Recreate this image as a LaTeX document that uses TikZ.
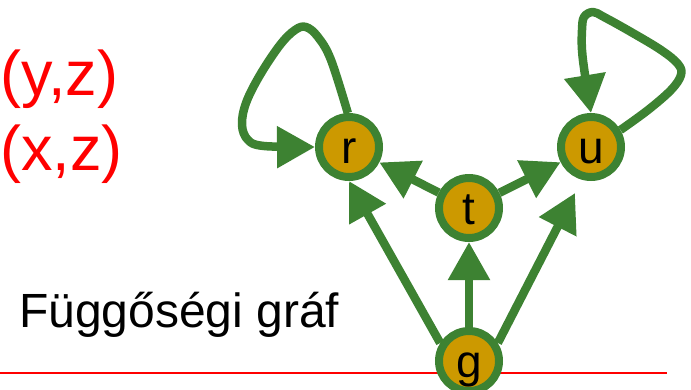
\documentclass[tikz,border=0pt]{standalone}
\usepackage{fontspec}
\setmainfont{Liberation Sans}
\usetikzlibrary{arrows.meta}
\definecolor{edgegreen}{RGB}{61,130,50}
\definecolor{nodegold}{RGB}{204,153,0}
\definecolor{pptred}{RGB}{255,0,0}
\begin{document}
\begin{tikzpicture}[x=1pt,y=-1pt,
  vert/.style={circle,draw=edgegreen,fill=nodegold,line width=8pt,minimum size=60pt,inner sep=0pt,
    font=\fontsize{46}{46}\selectfont,text height=33pt,text depth=0pt},
  edge/.style={draw=edgegreen,line width=8.5pt,line join=round,-{Triangle[length=38pt,width=40pt]}},
  redtext/.style={text=pptred,font=\fontsize{63}{75}\selectfont,inner sep=0pt,anchor=base west},
]
\useasboundingbox (0,0) rectangle (691,389);
% separator line
\draw[pptred,line width=2.5pt] (0,373) -- (667,373);
% texts
\node[redtext] (yz) at (0,95) {(y,z)};
\node[redtext] (xz) at (0,170) {(x,z)};
\node[font=\fontsize{48}{48}\selectfont,inner sep=0pt,anchor=base west] (title) at (19,327) {Függőségi gráf};
% nodes
\node[vert] (r) at (349,147) {r};
\node[vert] (t) at (469,208) {t};
\node[vert] (u) at (591,147) {u};
\node[vert] (g) at (469,361) {g};
\coordinate (gu) at (575,193);
% edges
\draw[edge] (t) -- (r);
\draw[edge] (t) -- (u);
\draw[edge] (g) -- (t);
\draw[edge] (g.148) -- (r.south);
\draw[edge] (g.32) -- (gu);
% self loops
\draw[edge] plot[smooth,tension=0.6] coordinates {(r.92) (331,60) (318,37) (306,27) (295,30) (280,45) (260,75) (246,103) (242,125) (248,140) (264,146) (r.west)};
\draw[edge] plot[smooth,tension=0.6] coordinates {(u.30) (648,110) (671,90) (681,75) (678,64) (661,50) (631,32) (604,17) (593,12) (584,17) (582,30) (582,50) (585,75) (u.north)};
\end{tikzpicture}
\end{document}
